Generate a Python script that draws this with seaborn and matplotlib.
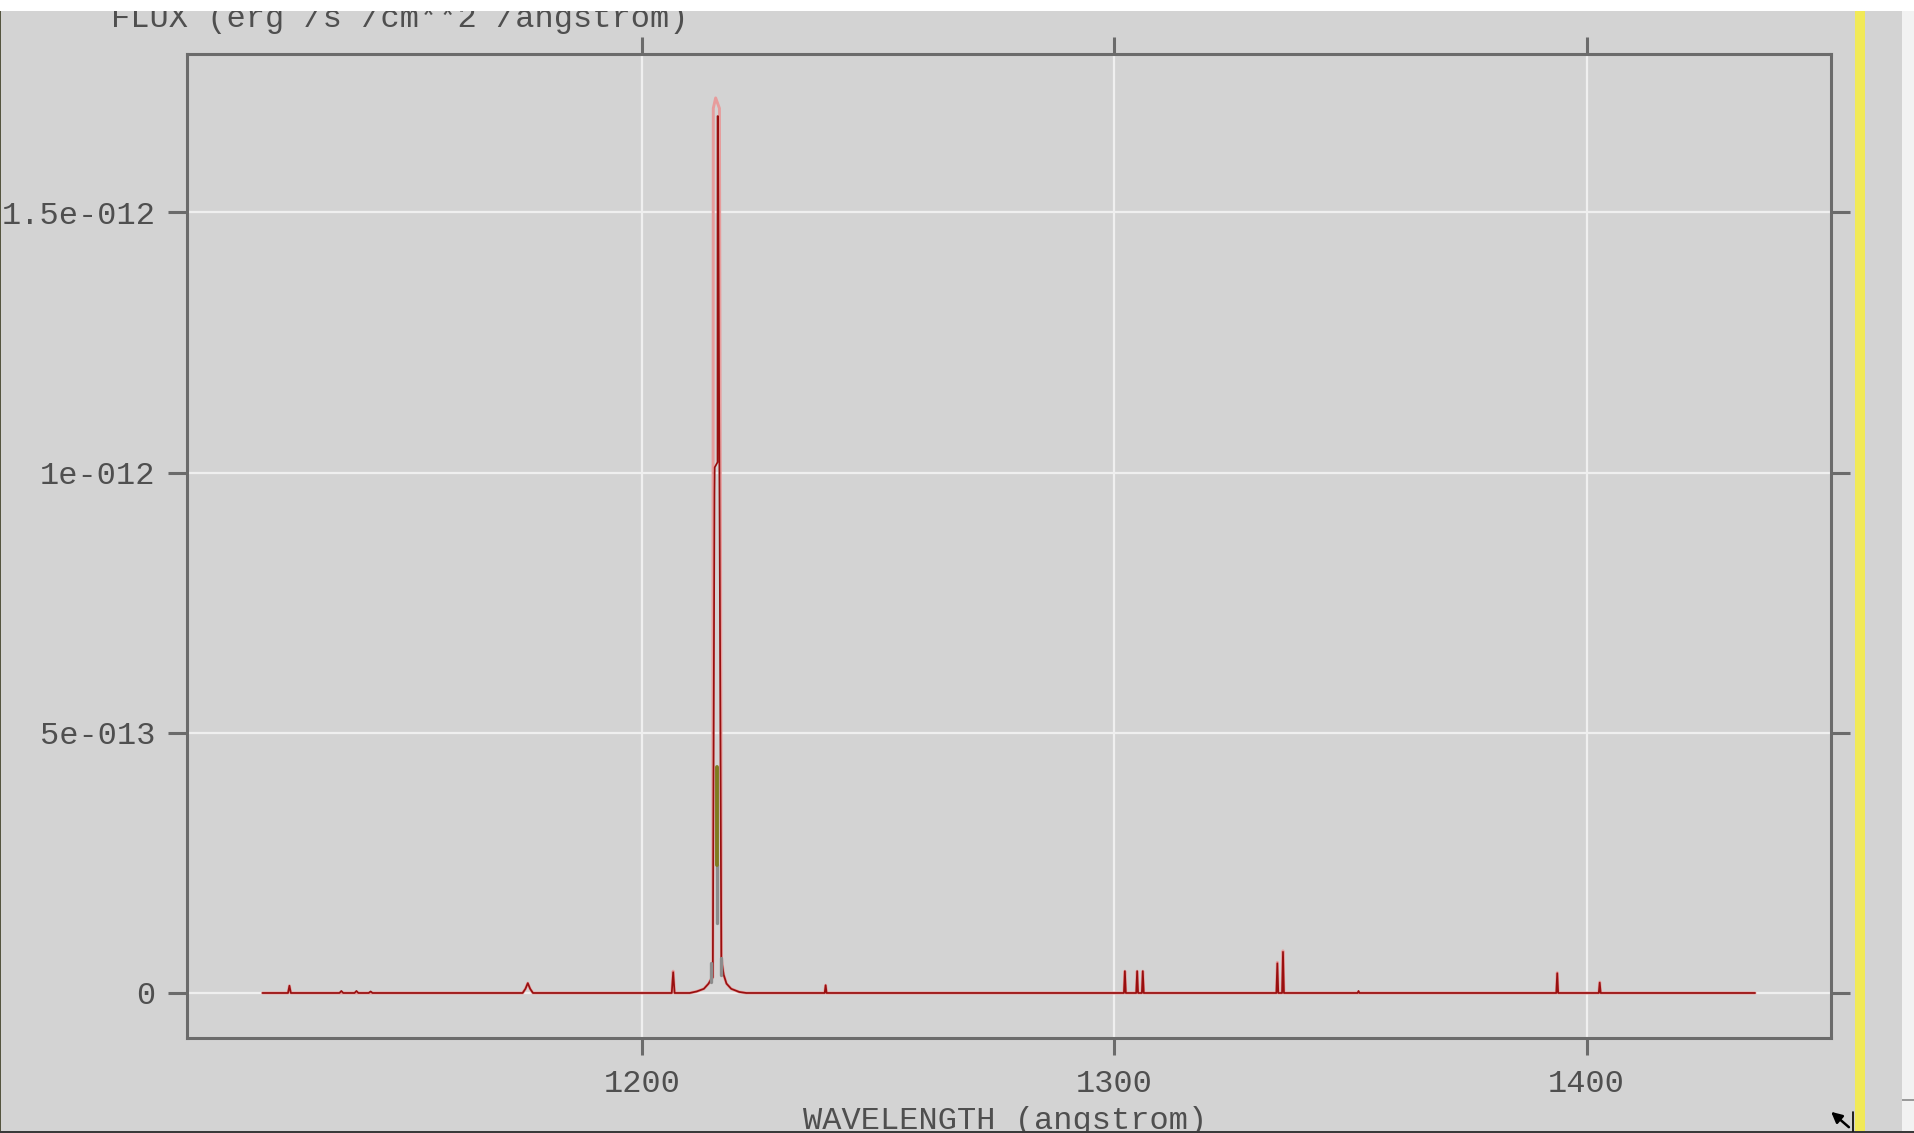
import matplotlib
matplotlib.use("Agg")
import matplotlib.pyplot as plt
import pandas as pd
import seaborn as sns
from matplotlib.patches import Rectangle, FancyArrowPatch
from matplotlib.lines import Line2D
from matplotlib.ticker import FixedLocator, FixedFormatter

# ---------------------------------------------------------------------------
# Spectrum vertices: (wavelength [angstrom], flux [erg/s/cm^2/angstrom])
# ---------------------------------------------------------------------------
# observed spectrum (dark red)
observed = [
    (1119.5, 0.0),
    (1124.9, 0.0), (1125.2, 1.4e-14), (1125.5, 0.0),
    (1135.8, 0.0), (1136.2, 4e-15), (1136.6, 0.0),
    (1139.0, 0.0), (1139.4, 4e-15), (1139.8, 0.0),
    (1142.0, 0.0), (1142.4, 3e-15), (1142.8, 0.0),
    (1174.6, 0.0), (1175.2, 8e-15), (1175.7, 1.9e-14), (1176.2, 8e-15), (1176.8, 0.0),
    (1206.2, 0.0), (1206.5, 4.0e-14), (1206.8, 0.0),
    (1210.0, 0.0), (1211.5, 3e-15), (1213.0, 8e-15), (1214.0, 1.8e-14),
    (1214.5, 2.6e-14), (1214.9, 3.0e-14),
    (1215.25, 9.6e-13), (1215.3, 1.01e-12), (1215.9, 1.02e-12),
    (1215.9, 1.685e-12), (1216.0, 1.685e-12),
    (1216.7, 6.5e-14), (1217.2, 3.5e-14), (1217.8, 1.8e-14), (1218.8, 8e-15),
    (1220.5, 2e-15), (1222.0, 0.0),
    (1238.6, 0.0), (1238.8, 1.5e-14), (1239.0, 0.0),
    (1302.0, 0.0), (1302.2, 4.2e-14), (1302.4, 0.0),
    (1304.6, 0.0), (1304.8, 4.2e-14), (1305.0, 0.0),
    (1305.8, 0.0), (1306.0, 4.2e-14), (1306.2, 0.0),
    (1334.3, 0.0), (1334.5, 5.7e-14), (1334.7, 0.0),
    (1335.5, 0.0), (1335.7, 7.9e-14), (1335.9, 0.0),
    (1351.5, 0.0), (1351.7, 4e-15), (1351.9, 0.0),
    (1393.6, 0.0), (1393.8, 3.8e-14), (1394.0, 0.0),
    (1402.6, 0.0), (1402.8, 2.0e-14), (1403.0, 0.0),
    (1435.7, 0.0),
]

# smoothed spectrum (light red, broad line)
smoothed = [
    (1119.5, 0.0),
    (1124.9, 0.0), (1125.2, 1.4e-14), (1125.5, 0.0),
    (1174.6, 0.0), (1175.2, 8e-15), (1175.7, 1.9e-14), (1176.2, 8e-15), (1176.8, 0.0),
    (1206.2, 0.0), (1206.5, 4.2e-14), (1206.8, 0.0),
    (1210.0, 0.0), (1211.5, 3e-15), (1213.0, 8e-15), (1214.0, 1.8e-14),
    (1214.5, 2.6e-14), (1214.9, 3.0e-14),
    (1215.0, 1.70e-12), (1215.5, 1.72e-12), (1216.3, 1.70e-12),
    (1216.75, 6.5e-14), (1217.2, 3.5e-14), (1217.8, 1.8e-14), (1218.8, 8e-15),
    (1220.5, 2e-15), (1222.0, 0.0),
    (1238.6, 0.0), (1238.8, 1.5e-14), (1239.0, 0.0),
    (1302.0, 0.0), (1302.2, 4.2e-14), (1302.4, 0.0),
    (1304.6, 0.0), (1304.8, 4.2e-14), (1305.0, 0.0),
    (1305.8, 0.0), (1306.0, 4.2e-14), (1306.2, 0.0),
    (1334.3, 0.0), (1334.5, 5.9e-14), (1334.7, 0.0),
    (1335.5, 0.0), (1335.7, 8.1e-14), (1335.9, 0.0),
    (1393.6, 0.0), (1393.8, 3.9e-14), (1394.0, 0.0),
    (1402.6, 0.0), (1402.8, 2.1e-14), (1403.0, 0.0),
    (1435.7, 0.0),
]

# Lyman-alpha core segments of the other exposures: (segment, wavelength, flux)
core_olive = [
    (0, 1215.8, 2.45e-13), (0, 1215.8, 4.35e-13),
]
core_gray = [
    (0, 1215.75, 1.35e-13), (0, 1215.75, 2.45e-13),
    (1, 1214.5, 2.2e-14), (1, 1214.5, 5.8e-14),
    (2, 1216.7, 3.5e-14), (2, 1216.7, 6.7e-14),
]

x_ticks = [1200, 1300, 1400]
x_tick_labels = ["1200", "1300", "1400"]
y_ticks = [0.0, 5e-13, 1e-12, 1.5e-12]
y_tick_labels = ["0", "5e-013", "1e-012", "1.5e-012"]

# ---------------------------------------------------------------------------
BG = "#d3d3d3"
AXC = "#6b6b6b"
TXT = "#4f4f4f"
MONO = ["Liberation Mono", "DejaVu Sans Mono"]

sns.set_style("darkgrid", {"axes.facecolor": BG, "figure.facecolor": BG,
                           "grid.color": "#efefef"})
plt.rcParams["font.family"] = MONO

W, H = 1915, 1133
fig = plt.figure(figsize=(W / 100, H / 100), dpi=100, facecolor=BG)
L, R, T, B = 187, 1831, 54, 1038
ax = fig.add_axes([L / W, 1 - B / H, (R - L) / W, (B - T) / H])
ax.set_facecolor(BG)

obs_df = pd.DataFrame(observed, columns=["wavelength", "flux"])
smo_df = pd.DataFrame(smoothed, columns=["wavelength", "flux"])
olive_df = pd.DataFrame(core_olive, columns=["seg", "wavelength", "flux"])
gray_df = pd.DataFrame(core_gray, columns=["seg", "wavelength", "flux"])

sns.lineplot(data=smo_df, x="wavelength", y="flux", sort=False, estimator=None,
             color="#e79c9c", lw=2.1, ax=ax, zorder=3)
sns.lineplot(data=obs_df, x="wavelength", y="flux", sort=False, estimator=None,
             color="#980f0f", lw=1.25, ax=ax, zorder=4)
sns.lineplot(data=gray_df, x="wavelength", y="flux", units="seg", sort=False,
             estimator=None, color="#8c8c8c", lw=2.4, ax=ax, zorder=5)
sns.lineplot(data=olive_df, x="wavelength", y="flux", units="seg", sort=False,
             estimator=None, color="#7f7b1f", lw=2.8, ax=ax, zorder=5)

ax.set_xlim(1103.5, 1451.8)
ax.set_ylim(-8.65e-14, 1.8044e-12)

ax.xaxis.set_major_locator(FixedLocator(x_ticks))
ax.xaxis.set_major_formatter(FixedFormatter(x_tick_labels))
ax.yaxis.set_major_locator(FixedLocator(y_ticks))
ax.yaxis.set_major_formatter(FixedFormatter(y_tick_labels))

ax.grid(True, color="#efefef", lw=1.6)
ax.set_axisbelow(True)

for sp in ax.spines.values():
    sp.set_visible(True)
    sp.set_color(AXC)
    sp.set_linewidth(2.2)

ax.tick_params(axis="y", which="major", left=True, right=True, direction="out",
               length=13.5, width=2.2, color=AXC, pad=9, labelsize=23,
               labelcolor=TXT)
ax.tick_params(axis="x", which="major", bottom=True, top=True, direction="out",
               length=12.2, width=2.2, color=AXC, pad=10, labelsize=23,
               labelcolor=TXT)

ax.set_xlabel("WAVELENGTH (angstrom)", fontsize=23, color=TXT, va="baseline")
ax.xaxis.set_label_coords((1005 - L) / (R - L), (B - 1129) / (B - T))
ax.set_ylabel("FLUX (erg /s /cm**2 /angstrom)", fontsize=23, color=TXT,
              rotation=0, ha="left", va="baseline")
ax.yaxis.set_label_coords((111 - L) / (R - L), (B - 27) / (B - T))

# ---------------------------------------------------------------------------
# window decorations around the plot
def fig_rect(x0, y0, x1, y1, color, z=10):
    fig.add_artist(Rectangle((x0 / W, 1 - y1 / H), (x1 - x0) / W, (y1 - y0) / H,
                             transform=fig.transFigure, facecolor=color,
                             edgecolor="none", zorder=z))

fig_rect(0, 0, W, 11, "white")                 # title strip
fig_rect(1902, 11, W, H, "#f2f2f2")            # neighbouring panel
fig_rect(1902, 1099, W, 1101, "#9a9a9a", z=11)
fig_rect(1855, 11, 1865, H, "#f1e957")         # yellow marker bar
fig_rect(0, 11, 1.5, H, "#55553f")             # left border
fig_rect(0, 1131, W, H, "#3a3a3a", z=12)       # bottom border

# resize cursor
fig.add_artist(FancyArrowPatch(posA=(1851 / W, 1 - 1129 / H),
                               posB=(1829 / W, 1 - 1110 / H),
                               transform=fig.transFigure, arrowstyle="-|>",
                               mutation_scale=16, color="black", lw=1.8,
                               zorder=13))
fig.add_artist(Line2D([1853 / W, 1853 / W], [1 - 1112 / H, 1 - 1131 / H],
                      transform=fig.transFigure, color="black", lw=1.2,
                      zorder=13))

fig.savefig("out.png", dpi=100, facecolor=BG)
